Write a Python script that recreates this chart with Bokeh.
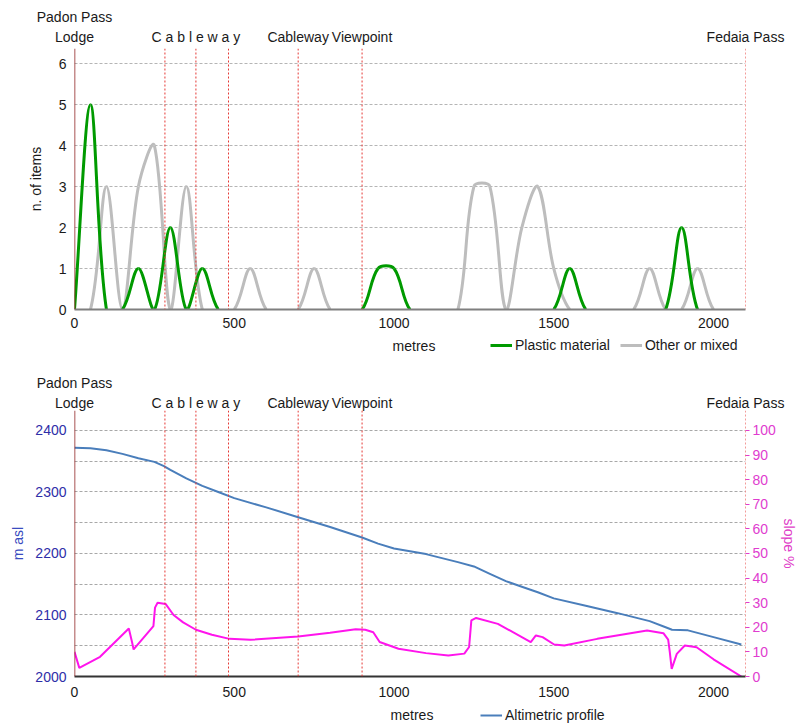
import numpy as np
from bokeh.plotting import figure
from bokeh.models import (Range1d, LinearAxis, Span, Legend, LegendItem, Label,
                          FixedTicker, ColumnDataSource)
from bokeh.layouts import column
from bokeh.embed import file_html
from bokeh.resources import INLINE

# ---------------- data ----------------
# litter survey: counts per 50 m segment
distance_items = [0, 50, 100, 150, 200, 250, 300, 350, 400, 450,
                  500, 550, 600, 650, 700, 750, 800, 850, 900, 950,
                  1000, 1050, 1100, 1150, 1200, 1250, 1300, 1350, 1400, 1450,
                  1500, 1550, 1600, 1650, 1700, 1750, 1800, 1850, 1900, 1950,
                  2000, 2050, 2100]
plastic = [0, 5, 0, 0, 1, 0, 2, 0, 1, 0,
           0, 0, 0, 0, 0, 0, 0, 0, 0, 1,
           1, 0, 0, 0, 0, 0, 0, 0, 0, 0,
           0, 1, 0, 0, 0, 0, 0, 0, 2, 0,
           0, 0, 0]
other = [0, 0, 3, 0, 3, 4, 0, 3, 0, 0,
         0, 1, 0, 0, 0, 1, 0, 0, 0, 0,
         0, 0, 0, 0, 0, 3, 3, 0, 2, 3,
         1, 0, 0, 0, 0, 0, 1, 0, 0, 1,
         0, 0, 0]

# altimetric profile (m asl)
dist_alt = [0, 50, 100, 150, 200, 250, 280, 300, 350, 400, 450, 500, 600, 700,
            800, 900, 950, 1000, 1100, 1200, 1250, 1300, 1350, 1400, 1450, 1500,
            1600, 1700, 1800, 1850, 1870, 1920, 2000, 2087]
altitude = [2372, 2371, 2368, 2362, 2355, 2349, 2342, 2336, 2322, 2310, 2300, 2290,
            2275, 2259, 2243, 2226, 2216, 2208, 2199, 2186, 2179, 2167, 2155, 2146,
            2137, 2127, 2115, 2103, 2090, 2080, 2076, 2075, 2064, 2052]

# slope (%)
dist_slope = [0, 15, 80, 170, 180, 185, 247, 252, 260, 285, 310, 340, 380, 430, 485,
              550, 700, 800, 880, 910, 935, 955, 1014, 1100, 1170, 1220, 1235, 1242,
              1257, 1325, 1428, 1444, 1465, 1501, 1533, 1636, 1792, 1843, 1858, 1863,
              1869, 1885, 1910, 1947, 2000, 2087]
slope = [10, 3.5, 8, 19.5, 14, 11, 20.5, 28, 30, 29.5, 25, 22, 19, 17, 15.3,
         14.9, 16.3, 17.8, 19.2, 19, 18, 14, 11.3, 9.5, 8.5, 9.3, 12, 22.8,
         23.8, 21.4, 14, 16.7, 16, 13, 12.6, 15.3, 18.7, 17.6, 15, 10,
         3.1, 9.2, 12.6, 11.9, 7, 0]

landmark_lines = [0, 283, 380, 482, 700, 900, 2100]
landmark_label_pos = [0, 380, 700, 900, 2100]
landmark_labels = ["Padon Pass\nLodge", "C a b l e w a y", "Cableway", "Viewpoint",
                   "Fedaia Pass"]
x_ticks = [0, 500, 1000, 1500, 2000]

FONT = "Liberation Sans"
FS = "14px"
RED = "#E53935"
TXT = "#1a1a1a"
W = 799
BL, BR = 74, 51          # left / right borders of every panel
FRAME_W = W - BL - BR


def smooth_segments(xs, ys, sx, sy):
    """Bezier control points for a smoothed line, computed in pixel space."""
    x = np.asarray(xs, float)
    y = np.asarray(ys, float)
    xp = np.concatenate([[x[0]], x, [x[-1]]])
    yp = np.concatenate([[y[0]], y, [y[-1]]])

    def dist(a, b):
        return np.hypot((xp[a] - xp[b]) * sx, (yp[a] - yp[b]) * sy)

    d = dict(x0=[], y0=[], x1=[], y1=[], cx0=[], cy0=[], cx1=[], cy1=[])
    for i in range(len(x) - 1):
        if y[i] == 0 and y[i + 1] == 0:
            continue
        j = i + 1
        d01, d12, d23 = dist(j - 1, j), dist(j, j + 1), dist(j + 1, j + 2)
        f1 = d12 / (3 * (d01 + d12)) if d01 + d12 > 0 else 0
        f2 = d12 / (3 * (d12 + d23)) if d12 + d23 > 0 else 0
        d["x0"].append(xp[j]); d["y0"].append(yp[j])
        d["x1"].append(xp[j + 1]); d["y1"].append(yp[j + 1])
        d["cx0"].append(xp[j] + (xp[j + 1] - xp[j - 1]) * f1)
        d["cy0"].append(yp[j] + (yp[j + 1] - yp[j - 1]) * f1)
        d["cx1"].append(xp[j + 1] - (xp[j + 2] - xp[j]) * f2)
        d["cy1"].append(yp[j + 1] - (yp[j + 2] - yp[j]) * f2)
    return ColumnDataSource(d)


def add_landmarks(p, standoff):
    for i, lx in enumerate(landmark_lines):
        if i == 0:
            p.add_layout(Span(location=lx, dimension="height", line_color="#8B1A1A",
                              line_width=1.5))
        else:
            p.add_layout(Span(location=lx, dimension="height", line_color=RED,
                              line_width=1, line_dash="2 2"))
    top = LinearAxis()
    top.ticker = FixedTicker(ticks=landmark_label_pos)
    top.major_label_overrides = dict(zip(landmark_label_pos, landmark_labels))
    top.major_label_text_font = FONT
    top.major_label_text_font_size = FS
    top.major_label_text_color = TXT
    top.major_label_standoff = standoff
    top.axis_line_color = None
    top.major_tick_out = 0
    top.major_tick_in = 0
    top.minor_tick_out = 0
    top.minor_tick_in = 0
    p.add_layout(top, "above")


def style_xaxis(ax, color, standoff):
    ax.ticker = FixedTicker(ticks=x_ticks)
    ax.major_label_text_font = FONT
    ax.major_label_text_font_size = FS
    ax.major_label_text_color = TXT
    ax.major_tick_out = 0
    ax.major_tick_in = 0
    ax.minor_tick_out = 0
    ax.minor_tick_in = 0
    ax.axis_line_color = color
    ax.axis_line_width = 2
    ax.major_label_standoff = standoff


def style_yaxis(ax, color, label, label_color, standoff, label_standoff):
    ax.major_label_text_font = FONT
    ax.major_label_text_font_size = FS
    ax.major_label_text_color = color
    ax.minor_tick_out = 0
    ax.minor_tick_in = 0
    ax.axis_line_color = None
    ax.major_label_standoff = standoff
    ax.axis_label = label
    ax.axis_label_text_font = FONT
    ax.axis_label_text_font_size = FS
    ax.axis_label_text_font_style = "normal"
    ax.axis_label_text_color = label_color
    ax.axis_label_standoff = label_standoff


def legend_row(h, series, metres_x, legend_x, spacing):
    """A thin strip holding the x-axis title and the series legend.
    The series are drawn again here (outside the visible y range) so that the
    legend swatches belong to real renderers of this strip."""
    off = -1.0e6
    pl = figure(width=W, height=h, output_backend="svg", toolbar_location=None,
                x_range=Range1d(0, FRAME_W), y_range=Range1d(off - h, off),
                x_axis_type=None, y_axis_type=None,
                min_border_left=BL, min_border_right=BR, min_border_top=0,
                min_border_bottom=0)
    pl.outline_line_color = None
    items = []
    for name, xs, ys, color, width in series:
        r = pl.line(x=xs, y=ys, line_color=color, line_width=width)
        items.append(LegendItem(label=name, renderers=[r]))
    pl.add_layout(Label(x=metres_x - BL, y=off - h / 2, text="metres", text_font=FONT,
                        text_font_size=FS, text_color=TXT, text_align="center",
                        text_baseline="middle"))
    pl.add_layout(Legend(items=items, orientation="horizontal",
                         location=(legend_x - BL, (h - 16) / 2),
                         background_fill_alpha=0, border_line_color=None,
                         padding=0, margin=0, spacing=spacing, glyph_width=22,
                         glyph_height=16, label_height=16, label_standoff=3,
                         label_text_font=FONT, label_text_font_size=FS,
                         label_text_color=TXT))
    return pl


# ---------------- top chart ----------------
Y1_MAX = 6.37
p1 = figure(width=W, height=335, output_backend="svg", toolbar_location=None,
            x_range=Range1d(0, 2100), y_range=Range1d(0, Y1_MAX),
            min_border_left=BL, min_border_right=BR, min_border_top=48,
            min_border_bottom=26)
p1.outline_line_color = None
p1.xgrid.visible = False
p1.ygrid.ticker = FixedTicker(ticks=[1, 2, 3, 4, 5, 6])
p1.ygrid.grid_line_color = "#B5B5B5"
p1.ygrid.grid_line_dash = "3 2"
p1.ygrid.grid_line_width = 1

style_xaxis(p1.xaxis[0], "#7F7F7F", 8)
ya = p1.yaxis[0]
ya.ticker = FixedTicker(ticks=[0, 1, 2, 3, 4, 5, 6])
ya.major_tick_out = 0
ya.major_tick_in = 0
style_yaxis(ya, TXT, "n. of items", TXT, 8, 12)

add_landmarks(p1, 4)

sx1 = FRAME_W / 2100.0
sy1 = 261 / Y1_MAX
p1.bezier(x0="x0", y0="y0", x1="x1", y1="y1", cx0="cx0", cy0="cy0",
          cx1="cx1", cy1="cy1", source=smooth_segments(distance_items, other, sx1, sy1),
          line_color="#BDBDBD", line_width=3)
p1.bezier(x0="x0", y0="y0", x1="x1", y1="y1", cx0="cx0", cy0="cy0",
          cx1="cx1", cy1="cy1", source=smooth_segments(distance_items, plastic, sx1, sy1),
          line_color="#009A00", line_width=3)

leg1 = legend_row(20, [("Plastic material", distance_items, plastic, "#009A00", 3),
                       ("Other or mixed", distance_items, other, "#BDBDBD", 3)],
                  415, 490, 10)

# ---------------- bottom chart ----------------
Y2_MAX = 2432.5
p2 = figure(width=W, height=349, output_backend="svg", toolbar_location=None,
            x_range=Range1d(0, 2100), y_range=Range1d(2000, Y2_MAX),
            min_border_left=BL, min_border_right=BR, min_border_top=55,
            min_border_bottom=28)
p2.outline_line_color = None
p2.xgrid.visible = False
p2.ygrid.ticker = FixedTicker(ticks=[2050, 2100, 2150, 2200, 2250, 2300, 2350, 2400])
p2.ygrid.grid_line_color = "#A8A8A8"
p2.ygrid.grid_line_dash = "3 2"
p2.ygrid.grid_line_width = 1
p2.extra_y_ranges = {"slope": Range1d(0, 100 * (Y2_MAX - 2000) / 400)}

style_xaxis(p2.xaxis[0], "#333333", 10)
la = p2.yaxis[0]
la.ticker = FixedTicker(ticks=[2000, 2100, 2200, 2300, 2400])
la.major_tick_out = 0
la.major_tick_in = 0
style_yaxis(la, "#2E2EA8", "m asl", "#3A4CC0", 8, 6)

ra = LinearAxis(y_range_name="slope")
ra.ticker = FixedTicker(ticks=[0, 10, 20, 30, 40, 50, 60, 70, 80, 90, 100])
ra.major_tick_out = 4
ra.major_tick_in = 0
ra.major_tick_line_color = "#E03CCF"
style_yaxis(ra, "#E03CCF", "slope %", "#E040C8", 3, 2)
p2.add_layout(ra, "right")

add_landmarks(p2, 0)

p2.line(dist_alt, altitude, line_color="#4A7EBB", line_width=2)
p2.line(dist_slope, slope, y_range_name="slope", line_color="#FF14EC", line_width=2)

leg2 = legend_row(21, [("Altimetric profile", dist_alt, altitude, "#4A7EBB", 2)],
                  413, 480, 10)

layout = column(p1, leg1, p2, leg2, spacing=0)
open("out.html", "w").write(file_html(layout, INLINE))
